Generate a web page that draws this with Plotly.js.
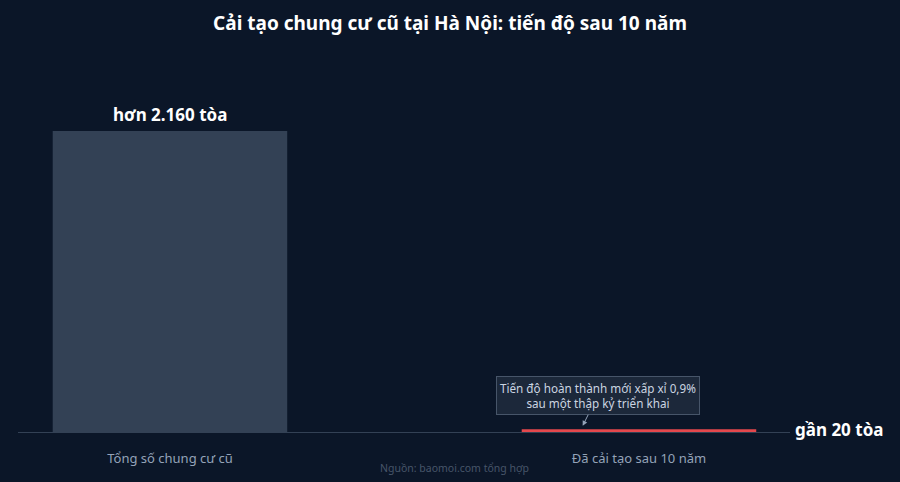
<!DOCTYPE html>
<html>
<head>
<meta charset="utf-8">
<script src="https://cdn.plot.ly/plotly-3.0.1.min.js"></script>
<style>
  html, body { margin: 0; padding: 0; background: #0b1628; }
  #chart { width: 900px; height: 482px; }
</style>
</head>
<body>
<div id="chart"></div>
<script>
// data
const categories = ['Tổng số chung cư cũ', 'Đã cải tạo sau 10 năm'];
const buildings = [2160, 20];
const valueLabels = ['hơn 2.160 tòa', 'gần 20 tòa'];
const barColors = ['#334155', '#e5484d'];
const noteText = 'Tiến độ hoàn thành mới xấp xỉ 0,9%<br>sau một thập kỷ triển khai';
const sourceText = 'Nguồn: baomoi.com tổng hợp';

const font = '"Noto Sans", "Open Sans", sans-serif';

var data = [{
    x: [0, 1],
    y: buildings,
    type: 'bar',
    width: 0.5,
    marker: { color: barColors },
    hoverinfo: 'skip'
}];

var layout = {
    width: 900,
    height: 482,
    paper_bgcolor: '#0b1628',
    plot_bgcolor: '#0b1628',
    font: { family: font, color: '#94a3b8' },
    margin: { l: 18, r: 110, t: 60, b: 50 },
    showlegend: false,
    title: {
        text: '<b>Cải tạo chung cư cũ tại Hà Nội: tiến độ sau 10 năm</b>',
        font: { family: font, size: 19, color: '#ffffff' },
        xref: 'container', x: 0.5,
        yref: 'container', y: 0.952, yanchor: 'middle'
    },
    xaxis: {
        range: [-0.324, 1.322],
        tickvals: [0, 1],
        ticktext: categories,
        tickfont: { size: 13, color: '#94a3b8' },
        ticklabelstandoff: 14,
        showgrid: false,
        zeroline: false,
        showline: true,
        linecolor: '#334155',
        linewidth: 1,
        fixedrange: true
    },
    yaxis: {
        range: [0, 2670],
        visible: false,
        showgrid: false,
        zeroline: false,
        fixedrange: true
    },
    annotations: [
        {
            x: 0, y: buildings[0], xref: 'x', yref: 'y',
            text: '<b>' + valueLabels[0] + '</b>',
            showarrow: false, yanchor: 'bottom', yshift: 3,
            font: { family: font, size: 17, color: '#ffffff' }
        },
        {
            x: 1, y: buildings[1], xref: 'paper', yref: 'y',
            text: '<b>' + valueLabels[1] + '</b>',
            showarrow: false, xanchor: 'left', yanchor: 'middle', xshift: 3,
            font: { family: font, size: 17, color: '#ffffff' }
        },
        {
            x: 0.88, y: 45, xref: 'x', yref: 'y',
            text: noteText,
            showarrow: true, arrowhead: 2, arrowsize: 1, arrowwidth: 1,
            arrowcolor: '#94a3b8',
            ax: 15, ay: -30,
            bgcolor: 'rgba(30,41,59,0.95)',
            bordercolor: '#475569', borderwidth: 1, borderpad: 3,
            font: { family: font, size: 11.7, color: '#cbd5e1' }
        },
        {
            x: 0.565, y: -0.097, xref: 'paper', yref: 'paper',
            text: sourceText,
            showarrow: false, yanchor: 'middle',
            font: { family: font, size: 10.5, color: '#475569' }
        }
    ]
};

Plotly.newPlot('chart', data, layout, { displayModeBar: false, staticPlot: true });
</script>
</body>
</html>
